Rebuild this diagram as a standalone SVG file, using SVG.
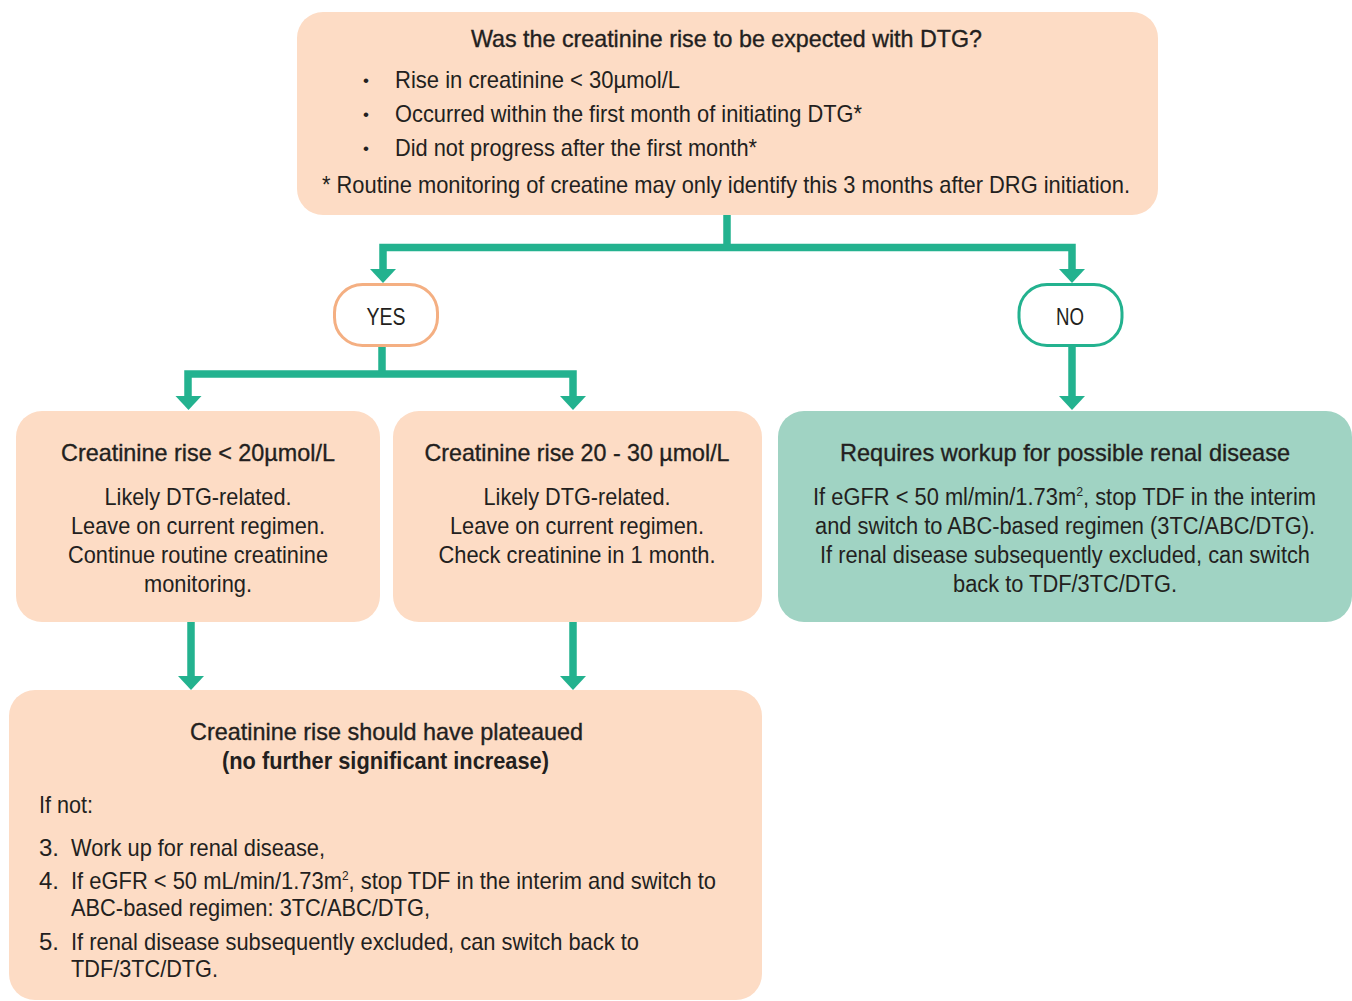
<svg xmlns="http://www.w3.org/2000/svg" width="1352" height="1001" viewBox="0 0 1352 1001">
<style>
text{font-family:"Liberation Sans Narrow","Liberation Sans",Arial,sans-serif;font-size:24px;fill:#231f20}
.c{text-anchor:middle}
.t{stroke:#231f20;stroke-width:0.35}
.b{font-weight:bold}
.g{font-size:23px}
.bul{font-size:17px}
.peach{fill:#fddcc5}
.green{fill:#a0d3c3}
.ln{fill:none;stroke:#23b28f;stroke-width:7.5}
.ah{fill:#23b28f}
</style>
<rect width="1352" height="1001" fill="#ffffff"/>
<g id="connectors">
<path class="ln" d="M727,214V247.5M383,270V247.5H1072V270"/>
<path class="ln" d="M382,345V374M188,397V374H573V397"/>
<path class="ln" d="M1072,345V397"/>
<path class="ln" d="M191,622V677M573,622V677"/>
<polygon class="ah" points="370,269 396,269 383,283"/>
<polygon class="ah" points="1059,269 1085,269 1072,283"/>
<polygon class="ah" points="175.5,396 201.5,396 188.5,410"/>
<polygon class="ah" points="560,396 586,396 573,410"/>
<polygon class="ah" points="1059,396 1085,396 1072,410"/>
<polygon class="ah" points="178,676 204,676 191,690"/>
<polygon class="ah" points="560,676 586,676 573,690"/>
</g>
<g id="start">
<rect class="peach" x="297" y="12" width="861" height="203" rx="26"/>
<text x="471" y="47" textLength="511" lengthAdjust="spacingAndGlyphs" class="t">Was the creatinine rise to be expected with DTG?</text>
<text x="363" y="86" class="bul">•</text>
<text x="363" y="120" class="bul">•</text>
<text x="363" y="154" class="bul">•</text>
<text x="395" y="88" textLength="285" lengthAdjust="spacingAndGlyphs">Rise in creatinine &lt; 30µmol/L</text>
<text x="395" y="122" textLength="467" lengthAdjust="spacingAndGlyphs">Occurred within the first month of initiating DTG*</text>
<text x="395" y="156" textLength="362" lengthAdjust="spacingAndGlyphs">Did not progress after the first month*</text>
<text x="322" y="193" textLength="808" lengthAdjust="spacingAndGlyphs">* Routine monitoring of creatine may only identify this 3 months after DRG initiation.</text>
</g>
<g id="yes">
<rect x="334.5" y="284.5" width="103" height="61" rx="28" fill="#ffffff" stroke="#f4af82" stroke-width="3"/>
<text x="386" y="325" class="c" textLength="39" lengthAdjust="spacingAndGlyphs">YES</text>
</g>
<g id="no">
<rect x="1019" y="284.5" width="103" height="61" rx="28" fill="#ffffff" stroke="#23b28f" stroke-width="3"/>
<text x="1070" y="325" class="c" textLength="28" lengthAdjust="spacingAndGlyphs">NO</text>
</g>
<g id="rise-under-20">
<rect class="peach" x="16" y="411" width="364" height="211" rx="26"/>
<text x="198" y="461" class="c t" textLength="274" lengthAdjust="spacingAndGlyphs">Creatinine rise &lt; 20µmol/L</text>
<text x="198" y="505" class="c" textLength="187" lengthAdjust="spacingAndGlyphs">Likely DTG-related.</text>
<text x="198" y="534" class="c" textLength="254" lengthAdjust="spacingAndGlyphs">Leave on current regimen.</text>
<text x="198" y="563" class="c" textLength="260" lengthAdjust="spacingAndGlyphs">Continue routine creatinine</text>
<text x="198" y="592" class="c" textLength="108" lengthAdjust="spacingAndGlyphs">monitoring.</text>
</g>
<g id="rise-20-30">
<rect class="peach" x="393" y="411" width="369" height="211" rx="26"/>
<text x="577" y="461" class="c t" textLength="305" lengthAdjust="spacingAndGlyphs">Creatinine rise 20 - 30 µmol/L</text>
<text x="577" y="505" class="c" textLength="187" lengthAdjust="spacingAndGlyphs">Likely DTG-related.</text>
<text x="577" y="534" class="c" textLength="254" lengthAdjust="spacingAndGlyphs">Leave on current regimen.</text>
<text x="577" y="563" class="c" textLength="277" lengthAdjust="spacingAndGlyphs">Check creatinine in 1 month.</text>
</g>
<g id="renal-workup">
<rect class="green" x="778" y="411" width="574" height="211" rx="26"/>
<text x="1065" y="461" class="c t" textLength="450" lengthAdjust="spacingAndGlyphs">Requires workup for possible renal disease</text>
<text x="1064.5" y="505" class="c g" textLength="503" lengthAdjust="spacingAndGlyphs">If eGFR &lt; 50 ml/min/1.73m<tspan font-size="13" dy="-9">2</tspan><tspan dy="9">, stop TDF in the interim</tspan></text>
<text x="1065" y="534" class="c g" textLength="500" lengthAdjust="spacingAndGlyphs">and switch to ABC-based regimen (3TC/ABC/DTG).</text>
<text x="1065" y="563" class="c g" textLength="490" lengthAdjust="spacingAndGlyphs">If renal disease subsequently excluded, can switch</text>
<text x="1065" y="592" class="c g" textLength="224" lengthAdjust="spacingAndGlyphs">back to TDF/3TC/DTG.</text>
</g>
<g id="plateau">
<rect class="peach" x="9" y="690" width="753" height="310" rx="26"/>
<text x="386.5" y="740" class="c t" textLength="393" lengthAdjust="spacingAndGlyphs">Creatinine rise should have plateaued</text>
<text x="385.5" y="769" class="c b" textLength="327" lengthAdjust="spacingAndGlyphs">(no further significant increase)</text>
<text x="39" y="813" textLength="54" lengthAdjust="spacingAndGlyphs">If not:</text>
<text x="39" y="856">3.</text>
<text x="71" y="856" textLength="254" lengthAdjust="spacingAndGlyphs">Work up for renal disease,</text>
<text x="39" y="889">4.</text>
<text x="71" y="889" textLength="645" lengthAdjust="spacingAndGlyphs">If eGFR &lt; 50 mL/min/1.73m<tspan font-size="13" dy="-9">2</tspan><tspan dy="9">, stop TDF in the interim and switch to</tspan></text>
<text x="71" y="916" textLength="359" lengthAdjust="spacingAndGlyphs">ABC-based regimen: 3TC/ABC/DTG,</text>
<text x="39" y="950">5.</text>
<text x="71" y="950" textLength="568" lengthAdjust="spacingAndGlyphs">If renal disease subsequently excluded, can switch back to</text>
<text x="71" y="977" textLength="147" lengthAdjust="spacingAndGlyphs">TDF/3TC/DTG.</text>
</g>
</svg>
